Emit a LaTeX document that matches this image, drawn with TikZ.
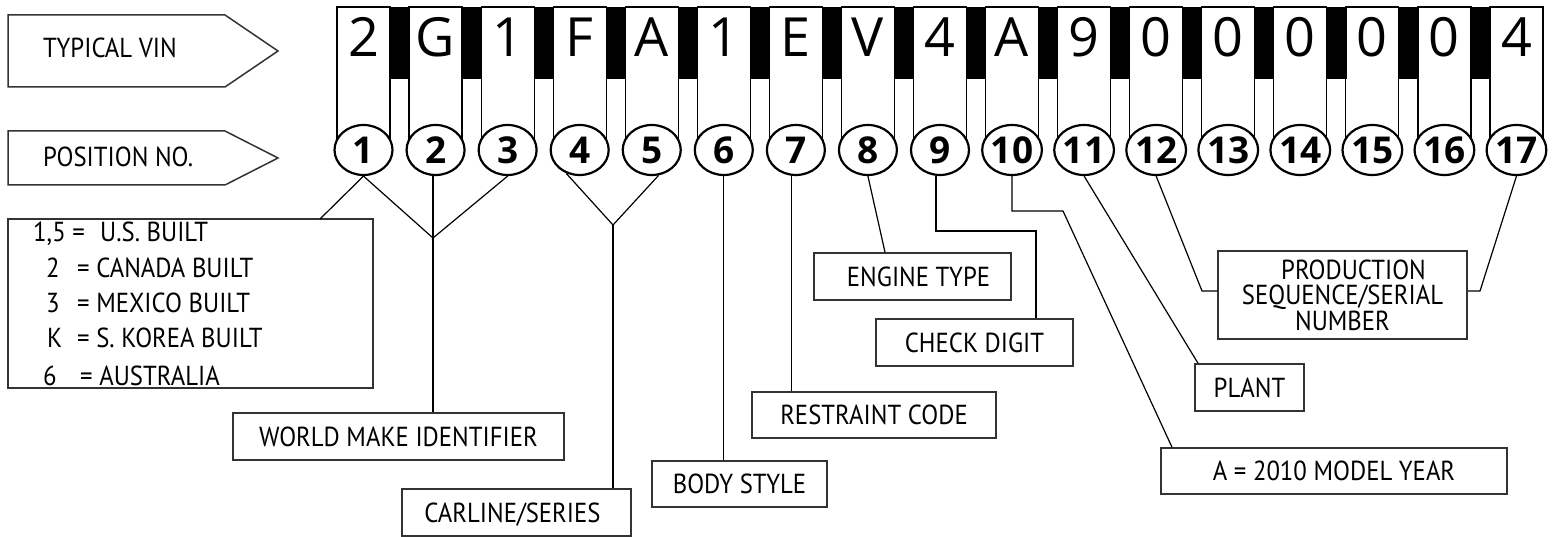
\documentclass[tikz,border=0pt]{standalone}
\usepackage{fontspec}
\setmainfont{PT Sans}[FakeStretch=0.9]
\newfontfamily\digfont{Open Sans}
\usetikzlibrary{shapes.geometric,calc}
\begin{document}
\begin{tikzpicture}[x=1pt,y=-1pt,
  lbl/.style={font=\fontsize{27.5}{28}\selectfont, inner sep=0pt},
  boxbase/.style={draw=black!80, line width=1.5pt, inner sep=0pt, fill=white,
    font=\fontsize{27.5}{28}\selectfont},
  box/.style={boxbase, text height=19pt, text depth=0pt},
  conn/.style={line width=1.2pt, black},
  cell/.style={line width=1.2pt, black},
  bar/.style={fill=black, draw=black, line width=0.6pt},
  posc/.style={ellipse, draw, line width=2.2pt, fill=white, inner sep=0pt,
    minimum width=58pt, minimum height=50pt,
    font=\digfont\fontsize{37}{37}\selectfont\bfseries},
  vch/.style={font=\digfont\fontsize{54}{54}\selectfont, inner sep=0pt, anchor=base},
  tag/.style={draw=black!80, line width=1.5pt}
]
\useasboundingbox (0,0) rectangle (1554,537);

% arrow tags
\draw[tag] (8,15) -- (225,15) -- (278,51) -- (225,87) -- (8,87) -- cycle;
\node[lbl, anchor=base west] (tvin) at (43,58) {TYPICAL VIN};
\draw[tag] (8,131) -- (225,131) -- (278,158) -- (225,185) -- (8,185) -- cycle;
\node[lbl, anchor=base west] (tpos) at (43,167) {POSITION NO.};

% VIN cells
\foreach \i/\ch in {1/2,2/G,3/1,4/F,5/A,6/1,7/E,8/V,9/4,10/A,11/9,12/0,13/0,14/0,15/0,16/0,17/4}{
  \pgfmathsetmacro\L{337+72.06*(\i-1)}
  \draw[cell] (\L,7) rectangle ++(53,143);
  \node[vch] (v\i) at (\L+26.5,57) {\ch};
}
\foreach \i in {1,...,16}{
  \pgfmathsetmacro\B{390+72.06*(\i-1)}
  \draw[bar] (\B,7) rectangle ++(19,71);
}
\foreach \i in {1,...,17}{
  \pgfmathsetmacro\C{363.5+72.06*(\i-1)}
  \node[posc] (c\i) at (\C,150) {\i};
}

% boxes
\node[box, minimum width=365pt, minimum height=169pt] (leg) at (190.5,303.5) {};
\node[lbl, anchor=base west] (l1a) at (33,242) {1,5 =};
\node[lbl, anchor=base west] (l1b) at (100,242) {U.S. BUILT};
\node[lbl, anchor=base west] (l2a) at (46,277) {2};
\node[lbl, anchor=base west] (l2b) at (77,277) {= CANADA BUILT};
\node[lbl, anchor=base west] (l3a) at (46,312) {3};
\node[lbl, anchor=base west] (l3b) at (77,312) {= MEXICO BUILT};
\node[lbl, anchor=base west] (l4a) at (47,347) {K};
\node[lbl, anchor=base west] (l4b) at (77,347) {= S. KOREA BUILT};
\node[lbl, anchor=base west] (l5a) at (43,385) {6};
\node[lbl, anchor=base west] (l5b) at (80,385) {= AUSTRALIA};

\node[box, minimum width=331pt, minimum height=47pt] (wmi) at (398.5,436.5) {WORLD MAKE IDENTIFIER};
\node[box, minimum width=229pt, minimum height=47pt] (cs) at (516.5,512.5) {\hspace*{-8pt}CARLINE/SERIES};
\node[box, minimum width=175pt, minimum height=46pt] (bs) at (739.5,484) {BODY STYLE};
\node[box, minimum width=244pt, minimum height=46pt] (rc) at (874,415) {RESTRAINT CODE};
\node[box, minimum width=197pt, minimum height=47pt] (et) at (912.5,276.5) {\hspace*{12pt}ENGINE TYPE};
\node[box, minimum width=197pt, minimum height=47pt] (cd) at (974.5,342.5) {CHECK DIGIT};
\node[box, minimum width=346pt, minimum height=46pt] (my) at (1334,471) {A = 2010 MODEL YEAR};
\node[box, minimum width=109pt, minimum height=47pt] (pl) at (1249.5,387.5) {PLANT};
\node[boxbase, minimum width=249pt, minimum height=88pt, align=center,
  font=\fontsize{27.5}{25.5}\selectfont] (ps) at (1342.5,295)
  {\hspace*{22pt}PRODUCTION\\SEQUENCE/SERIAL\\NUMBER};

% coordinates
\coordinate (a1) at (320,219);
\coordinate (j123) at (433,238);
\coordinate (j45) at (613,225);
\coordinate (k8) at (885,253);
\coordinate (k9) at (1036,231);
\coordinate (k10) at (1063,211);
\coordinate (k10b) at (1172,448);
\coordinate (k11) at (1198,364);
\coordinate (k12) at (1202,291);
\coordinate (k17) at (1480,291);

% connectors
\draw[conn] (c1.south) -- (a1);
\draw[conn] (c1.south) -- (j123) -- (c3.south);
\draw[conn] (j123 |- c2.south) -- (j123 |- wmi.north);
\draw[conn] (c4.240) -- (j45) -- (c5.285);
\draw[conn] (j45) -- (j45 |- cs.north);
\draw[conn] (c6.south) -- (c6.south |- bs.north);
\draw[conn] (c7.261) -- (c7.261 |- rc.north);
\draw[conn] (c8.south) -- (k8 |- et.north);
\draw[conn] (c9.261) |- (k9) -- (k9 |- cd.north);
\draw[conn] (c10.south) |- (k10) -- (k10b |- my.north);
\draw[conn] (c11.south) -- (k11 |- pl.north);
\draw[conn] (c12.south) -- (k12) -- (k12 -| ps.west);
\draw[conn] (c17.south) -- (k17) -- (k17 -| ps.east);
\end{tikzpicture}
\end{document}
